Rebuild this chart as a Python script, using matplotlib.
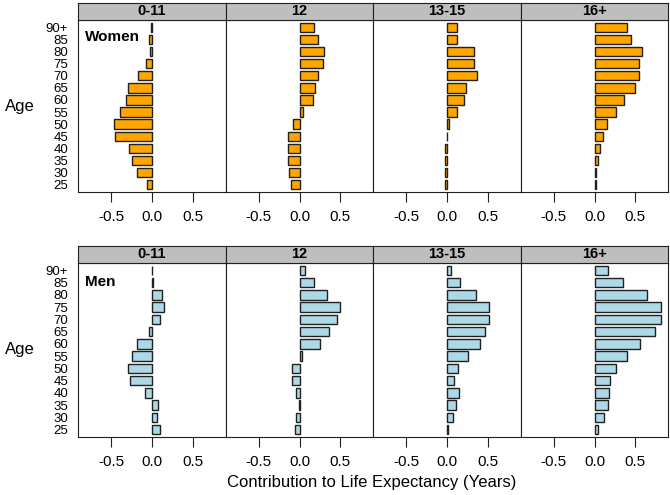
import matplotlib
matplotlib.use("Agg")
import matplotlib.pyplot as plt

plt.rcParams['font.family'] = ['Liberation Sans', 'DejaVu Sans']

# ---- data ----
ages = ["90+", "85", "80", "75", "70", "65", "60", "55", "50", "45", "40", "35", "30", "25"]
groups = ["0-11", "12", "13-15", "16+"]

women_0_11 = [-0.01, -0.04, -0.03, -0.07, -0.17, -0.30, -0.32, -0.40, -0.47, -0.45, -0.28, -0.25, -0.18, -0.06]
women_12 = [0.18, 0.23, 0.30, 0.29, 0.23, 0.19, 0.16, 0.045, -0.08, -0.14, -0.14, -0.14, -0.13, -0.11]
women_13_15 = [0.12, 0.12, 0.33, 0.33, 0.37, 0.23, 0.21, 0.12, 0.025, -0.003, -0.03, -0.025, -0.03, -0.03]
women_16 = [0.40, 0.44, 0.58, 0.54, 0.54, 0.49, 0.36, 0.26, 0.15, 0.10, 0.06, 0.04, 0.02, 0.02]

men_0_11 = [-0.005, 0.01, 0.12, 0.14, 0.10, -0.04, -0.185, -0.25, -0.30, -0.27, -0.09, 0.07, 0.065, 0.10]
men_12 = [0.07, 0.18, 0.34, 0.50, 0.46, 0.36, 0.25, 0.03, -0.09, -0.10, -0.04, -0.005, -0.045, -0.06]
men_13_15 = [0.05, 0.16, 0.35, 0.51, 0.51, 0.47, 0.40, 0.25, 0.13, 0.09, 0.14, 0.11, 0.07, 0.005]
men_16 = [0.16, 0.35, 0.64, 0.82, 0.82, 0.74, 0.56, 0.40, 0.26, 0.185, 0.17, 0.165, 0.115, 0.04]

xticks = [-0.5, 0.0, 0.5]
xticklabels = ["-0.5", "0.0", "0.5"]

# label, series, colour, panel top, panel bottom, label y
rows = [
    ("Women", [women_0_11, women_12, women_13_15, women_16], "#FFA500", 0.9596, 0.6121, 0.90),
    ("Men", [men_0_11, men_12, men_13_15, men_16], "#ADD8E6", 0.4687, 0.1172, 0.89),
]

fig = plt.figure(figsize=(6.7, 4.95), dpi=100)

W, H = 670.0, 495.0
left = 78 / W
pw = 147.5 / W
strip_h = 17 / H

ypos = list(range(len(ages)))

for label, series, color, top, bottom, ly in rows:
    for j, vals in enumerate(series):
        ax = fig.add_axes([left + j * pw, bottom, pw, top - bottom])
        ax.barh(ypos, vals, height=0.78, color=color, edgecolor="#202020", linewidth=1.0)
        ax.set_xlim(-0.91, 0.9)
        ax.set_ylim(len(ages) - 0.4, -0.6)
        ax.set_xticks(xticks)
        ax.set_xticklabels(xticklabels, fontsize=11)
        ax.tick_params(axis='x', direction='out', length=7, width=0.8, pad=6, color="#202020")
        if j == 0:
            ax.set_yticks(ypos)
            ax.set_yticklabels(ages, fontsize=9.5)
            ax.tick_params(axis='y', length=0, pad=7)
            ax.text(0.05, ly, label, transform=ax.transAxes, fontsize=11,
                    fontweight='bold', ha='left', va='center')
        else:
            ax.set_yticks([])
        for s in ax.spines.values():
            s.set_linewidth(0.8)
            s.set_color("#202020")

        # strip on top of each panel
        sax = fig.add_axes([left + j * pw, top, pw, strip_h])
        sax.set_facecolor("#BEBEBE")
        sax.set_xticks([])
        sax.set_yticks([])
        for s in sax.spines.values():
            s.set_linewidth(0.8)
            s.set_color("#202020")
        sax.text(0.5, 0.5, groups[j], transform=sax.transAxes, ha='center', va='center',
                 fontsize=10.5, fontweight='bold')

    fig.text(20 / W, (top + bottom) / 2, "Age", ha='center', va='center', fontsize=12)

fig.text(372 / W, 1 - 482 / H, "Contribution to Life Expectancy (Years)", ha='center', va='center', fontsize=12)

fig.savefig("out.png", dpi=100)
